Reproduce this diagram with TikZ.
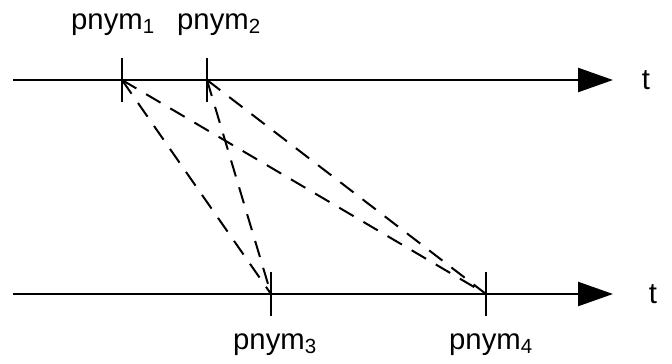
\documentclass[tikz,border=0pt]{standalone}
\usepackage{fontspec}
\setmainfont{Liberation Sans}
\usepackage{tikz}
\usetikzlibrary{arrows.meta}

\begin{document}
\begin{tikzpicture}[x=0.03cm,y=-0.03cm,
    every node/.style={font=\fontsize{25}{29}\selectfont, inner sep=0pt},
    axis/.style={line width=0.075cm, -{Triangle[length=1.05cm,width=0.72cm]}},
    tick/.style={line width=0.07cm},
    link/.style={line width=0.06cm, dash pattern=on 0.5cm off 0.34cm}]
    \useasboundingbox (0,0) rectangle (672,363);
    % time axes
    \coordinate (a1) at (13,80);
    \coordinate (b1) at (613,80);
    \coordinate (a2) at (13,294);
    \coordinate (b2) at (613,294);
    \draw[axis] (a1) -- (b1);
    \draw[axis] (a2) -- (b2);
    \node[anchor=base] (t1) at (646,89) {t};
    \node[anchor=base] (t2) at (653,303) {t};
    % pseudonym events
    \coordinate (p1) at (122,80);
    \coordinate (p2) at (207,80);
    \coordinate (p3) at (271,294);
    \coordinate (p4) at (486,294);
    \foreach \p in {p1,p2,p3,p4}
        \draw[tick] ([yshift=0.66cm]\p) -- ([yshift=-0.66cm]\p);
    \node[anchor=base] (n1) at (113,29) {pnym\textsubscript{1}};
    \node[anchor=base] (n2) at (219,29) {pnym\textsubscript{2}};
    \node[anchor=base] (n3) at (275,349) {pnym\textsubscript{3}};
    \node[anchor=base] (n4) at (491,349) {pnym\textsubscript{4}};
    % links
    \draw[link] (p1) -- (p3);
    \draw[link] (p1) -- (p4);
    \draw[link] (p2) -- (p3);
    \draw[link] (p2) -- (p4);
\end{tikzpicture}
\end{document}
